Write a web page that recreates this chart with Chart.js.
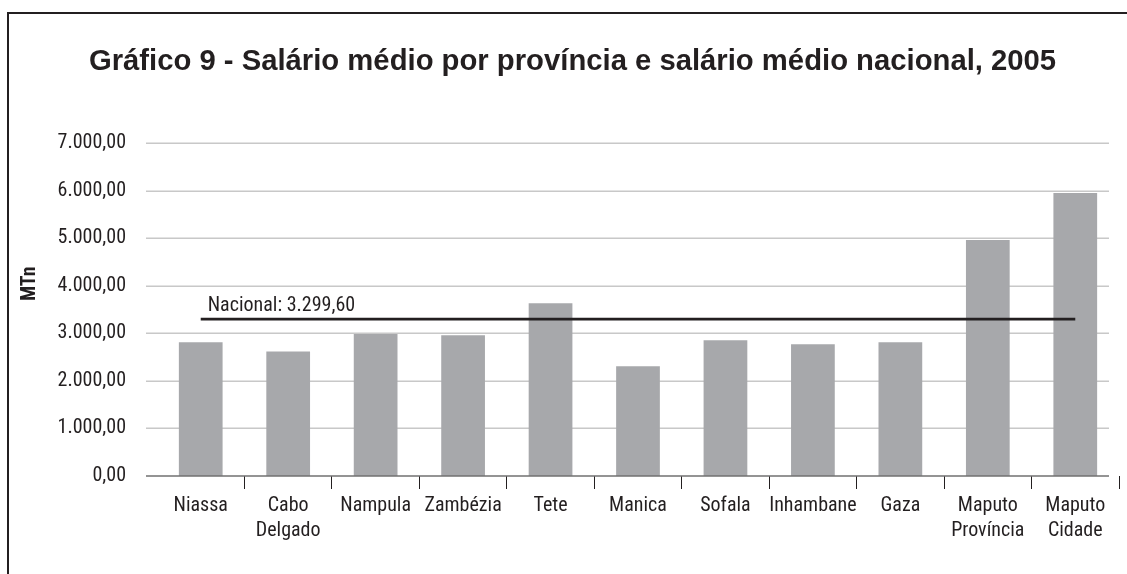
<!DOCTYPE html>
<html>
<head>
<meta charset="utf-8">
<script src="https://cdn.jsdelivr.net/npm/chart.js@4.4.1/dist/chart.umd.min.js"></script>
<style>
  html, body { margin: 0; padding: 0; background: #ffffff; overflow: hidden; }
  #wrap { position: relative; width: 1127px; height: 574px; }
  #c { position: absolute; left: 0; top: 0; }
  #frame { position: absolute; left: 7px; top: 12px; width: 1200px; height: 700px;
           border-left: 2px solid #231f20; border-top: 2px solid #231f20; pointer-events: none; }
</style>
</head>
<body>
<div id="wrap">
  <canvas id="c" width="1127" height="574"></canvas>
  <div id="frame"></div>
</div>
<script>
// ---- data ----
const categories = [
  ['Niassa'], ['Cabo', 'Delgado'], ['Nampula'], ['Zambézia'], ['Tete'], ['Manica'],
  ['Sofala'], ['Inhambane'], ['Gaza'], ['Maputo', 'Província'], ['Maputo', 'Cidade']
];
const salarioMedio = [2810, 2620, 2985, 2960, 3630, 2310, 2855, 2770, 2810, 4960, 5950];
const nacional = 3299.60;
const nacionalLabel = 'Nacional: ';
const yTicks = [0, 1000, 2000, 3000, 4000, 5000, 6000, 7000];
const chartTitle = 'Gráfico 9 - Salário médio por província e salário médio nacional, 2005';
const yTitle = 'MTn';

const INK = '#231f20';
const NARROW = "'Roboto Condensed', 'Liberation Sans', sans-serif";
const WIDE = "'Liberation Sans', Arial, sans-serif";
const LABEL_SIZE = 20;

function fmt(v) {
  const parts = Number(v).toFixed(2).split('.');
  const intPart = parts[0].replace(/\B(?=(\d{3})+(?!\d))/g, '.');
  return intPart + ',' + parts[1];
}

const extrasPlugin = {
  id: 'extras',
  beforeDatasetsDraw(chart) {
    const { ctx, chartArea } = chart;
    const y = chart.scales.y;
    const left = chartArea.left - 11, right = chartArea.right - 10;
    ctx.save();
    ctx.lineWidth = 1.5;
    ctx.strokeStyle = '#c8c8c8';
    yTicks.forEach(v => {
      if (v === 0) return;
      const py = Math.round(y.getPixelForValue(v)) + 0.25;
      ctx.beginPath(); ctx.moveTo(left, py); ctx.lineTo(right, py); ctx.stroke();
    });
    ctx.restore();
  },
  afterDatasetsDraw(chart) {
    const { ctx, chartArea } = chart;
    const x = chart.scales.x, y = chart.scales.y;
    ctx.save();
    // x axis line
    const py0 = y.getPixelForValue(0);
    ctx.lineWidth = 1.5;
    ctx.strokeStyle = '#707070';
    ctx.beginPath(); ctx.moveTo(chartArea.left - 11, py0); ctx.lineTo(chartArea.right - 10, py0); ctx.stroke();
    // national label
    ctx.fillStyle = INK;
    ctx.font = LABEL_SIZE + 'px ' + NARROW;
    ctx.textAlign = 'left';
    ctx.textBaseline = 'alphabetic';
    ctx.fillText(nacionalLabel + fmt(nacional), x.getPixelForValue(0) + 7, y.getPixelForValue(nacional) - 8.5);
    // y axis title
    ctx.translate(30, y.getPixelForValue(4000) - 2);
    ctx.rotate(-Math.PI / 2);
    ctx.font = 'bold ' + LABEL_SIZE + 'px ' + NARROW;
    ctx.textAlign = 'center';
    ctx.textBaseline = 'middle';
    ctx.fillText(yTitle, 0, 0);
    ctx.restore();
  }
};

new Chart(document.getElementById('c'), {
  data: {
    labels: categories,
    datasets: [
      {
        type: 'line',
        label: 'Nacional',
        data: categories.map(() => nacional),
        borderColor: INK,
        borderWidth: 2.6,
        pointRadius: 0,
        fill: false,
        order: 0
      },
      {
        type: 'bar',
        label: 'Salário médio',
        data: salarioMedio,
        backgroundColor: '#a7a8ab',
        borderWidth: 0,
        barPercentage: 0.5,
        categoryPercentage: 1.0,
        order: 1
      }
    ]
  },
  options: {
    responsive: false,
    animation: false,
    devicePixelRatio: 1,
    layout: { padding: { left: 26, right: 8, top: 0, bottom: 27 } },
    plugins: {
      legend: { display: false },
      tooltip: { enabled: false },
      title: {
        display: true,
        text: chartTitle,
        color: INK,
        font: { family: WIDE, size: 29.25, weight: 'bold', lineHeight: 1.2 },
        padding: { top: 44, bottom: 64 }
      }
    },
    scales: {
      x: {
        type: 'category',
        offset: true,
        grid: {
          display: true,
          offset: true,
          drawOnChartArea: false,
          drawTicks: true,
          tickLength: 13,
          lineWidth: 1,
          color: (c) => (c.index === 0 || c.index === categories.length) ? 'rgba(0,0,0,0)' : INK,
          tickColor: (c) => (c.index === 0 || c.index === categories.length) ? 'rgba(0,0,0,0)' : INK
        },
        border: { display: false },
        ticks: {
          color: INK,
          font: { family: NARROW, size: LABEL_SIZE, lineHeight: 1.25 },
          padding: 4,
          maxRotation: 0,
          autoSkip: false
        }
      },
      y: {
        type: 'linear',
        min: 0,
        max: 7000,
        afterFit(scale) { scale.width = 131; },
        afterBuildTicks(scale) { scale.ticks = yTicks.map(v => ({ value: v })); },
        grid: { display: false, drawTicks: false },
        border: { display: false },
        ticks: {
          color: INK,
          font: { family: NARROW, size: LABEL_SIZE },
          padding: 31,
          callback: (v) => fmt(v)
        }
      }
    }
  },
  plugins: [extrasPlugin]
});
</script>
</body>
</html>
